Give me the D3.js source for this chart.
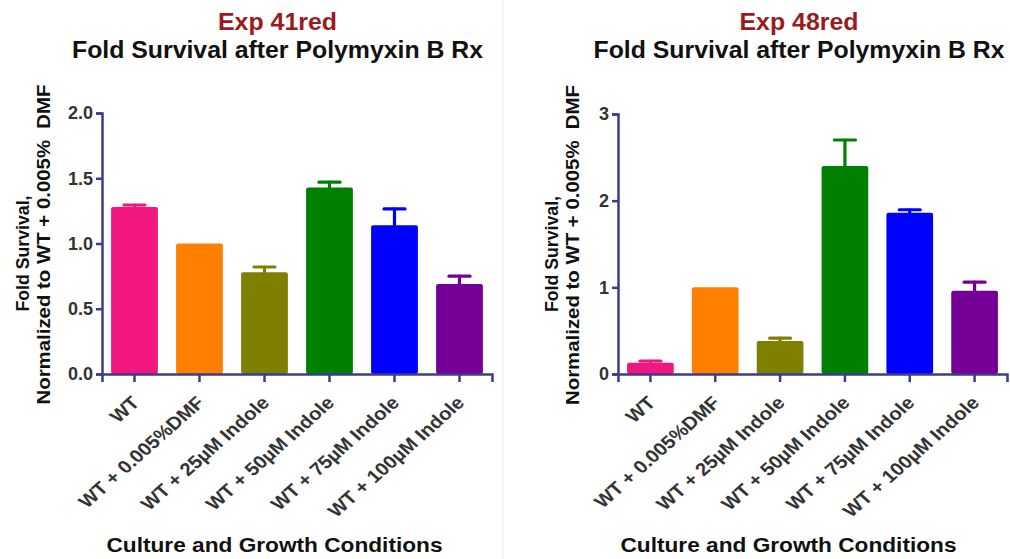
<!DOCTYPE html>
<html>
<head>
<meta charset="utf-8">
<script src="https://cdn.jsdelivr.net/npm/d3@7"></script>
<style>
  body { margin: 0; background: #fff; }
  svg { display: block; font-family: Arial, "Liberation Sans", sans-serif; }
</style>
</head>
<body>
<div id="chart"></div>
<script>
// bar categories shared by both panels
const conditions = ['WT', 'WT + 0.005%DMF', 'WT + 25\u00B5M Indole', 'WT + 50\u00B5M Indole', 'WT + 75\u00B5M Indole', 'WT + 100\u00B5M Indole'];
const barColors = ['#F2177F', '#FF8000', '#808000', '#008000', '#0000FF', '#750097'];

// Exp 41red
const exp41Means = [1.28, 1.0, 0.78, 1.43, 1.14, 0.69];
const exp41Errs  = [0.015, 0, 0.04, 0.04, 0.125, 0.06];
const exp41Ticks = [0, 0.5, 1.0, 1.5, 2.0];

// Exp 48red
const exp48Means = [0.13, 1.0, 0.38, 2.40, 1.86, 0.96];
const exp48Errs  = [0.02, 0, 0.035, 0.30, 0.035, 0.1];
const exp48Ticks = [0, 1, 2, 3];

const W = 1010, H = 559;
const svg = d3.select('#chart').append('svg').attr('width', W).attr('height', H);

// faint divider between panels
svg.append('line').attr('x1', 503).attr('x2', 503).attr('y1', 0).attr('y2', H)
  .attr('stroke', '#ededed').attr('stroke-width', 1);

const axisColor = '#3c3c8c';

// text helper: fixed rendered length so widths match the (slightly stretched) original
function label(g, txt, size, len, fill){
  return g.append('text').attr('text-anchor', 'middle').attr('font-size', size)
    .attr('font-weight', 'bold').attr('fill', fill || '#111')
    .attr('textLength', len).attr('lengthAdjust', 'spacingAndGlyphs')
    .style('white-space', 'pre').text(txt);
}

function panel(opts){
  const {left, right, top, bottom, title, means, errs, ticks, yMax, fmt, titleX, xTitleX, ylabX} = opts;
  const g = svg.append('g');
  const rows = means.map((v,i) => ({name: conditions[i], v, e: errs[i], c: barColors[i]}));

  const x = d3.scaleBand().domain(conditions).range([left, right]).paddingInner(0.28).paddingOuter(0.14);
  const y = d3.scaleLinear().domain([0, yMax]).range([bottom, top]);

  // titles
  label(g, title, 23, 119, '#9A1B1B').attr('x', titleX).attr('y', 30);
  label(g, 'Fold Survival after Polymyxin B Rx', 24, 411).attr('x', titleX).attr('y', 58);

  // bars
  g.selectAll('rect.bar').data(rows).enter().append('rect')
    .attr('x', d => x(d.name))
    .attr('y', d => y(d.v))
    .attr('width', x.bandwidth())
    .attr('height', d => bottom - y(d.v))
    .attr('rx', 2)
    .attr('fill', d => d.c);

  // error bars (upper only)
  const eb = g.selectAll('g.err').data(rows.filter(d => d.e > 0)).enter().append('g')
    .attr('stroke', d => d.c).attr('stroke-width', 3.2).attr('stroke-linecap', 'round');
  const cx = d => x(d.name) + x.bandwidth()/2;
  eb.append('line').attr('x1', cx).attr('x2', cx)
    .attr('y1', d => y(d.v)).attr('y2', d => y(d.v + d.e));
  eb.append('line').attr('x1', d => cx(d) - 10.5).attr('x2', d => cx(d) + 10.5)
    .attr('y1', d => y(d.v + d.e)).attr('y2', d => y(d.v + d.e));

  // y axis
  const ya = g.append('g').attr('transform', `translate(${left},0)`)
    .call(d3.axisLeft(y).tickValues(ticks).tickFormat(fmt).tickSizeOuter(0).tickSize(6).tickPadding(3));
  ya.select('.domain').attr('stroke', axisColor).attr('stroke-width', 2.5);
  ya.selectAll('.tick line').attr('stroke', axisColor).attr('stroke-width', 2.5);
  ya.selectAll('.tick text').attr('font-size', 18).attr('font-weight', 'bold').attr('fill', '#333')
    .attr('font-family', 'Arial, "Liberation Sans", sans-serif');

  // x axis
  const xa = g.append('g').attr('transform', `translate(0,${bottom})`)
    .call(d3.axisBottom(x).tickSizeOuter(0).tickSize(8));
  xa.select('.domain').attr('stroke', axisColor).attr('stroke-width', 2.5);
  xa.selectAll('.tick line').attr('stroke', axisColor).attr('stroke-width', 2.5);
  xa.selectAll('.tick text')
    .attr('font-size', 18).attr('font-weight', 'bold').attr('fill', '#333')
    .attr('font-family', 'Arial, "Liberation Sans", sans-serif')
    .attr('text-anchor', 'end')
    .attr('dy', null).attr('y', 0)
    .attr('transform', 'translate(6,30) scale(1.13,1) rotate(-45)');

  // axis titles
  label(g, 'Culture and Growth Conditions', 21, 336).attr('x', xTitleX).attr('y', 552);

  const cy = (top + bottom)/2;
  label(g, 'Fold Survival,', 19, 116).attr('transform', `translate(${ylabX},${cy + 10}) rotate(-90)`);
  label(g, 'Normalized to WT + 0.005%  DMF', 19, 320).attr('transform', `translate(${ylabX + 21},${cy + 1}) rotate(-90)`);
}

panel({left: 102, right: 492, top: 113, bottom: 374, title: 'Exp 41red',
  means: exp41Means, errs: exp41Errs, ticks: exp41Ticks, yMax: 2.0, fmt: d3.format('.1f'),
  titleX: 277.5, xTitleX: 274.5, ylabX: 29});

panel({left: 618, right: 1007, top: 114, bottom: 374, title: 'Exp 48red',
  means: exp48Means, errs: exp48Errs, ticks: exp48Ticks, yMax: 3, fmt: d3.format('d'),
  titleX: 799, xTitleX: 788.5, ylabX: 558});
</script>
</body>
</html>
